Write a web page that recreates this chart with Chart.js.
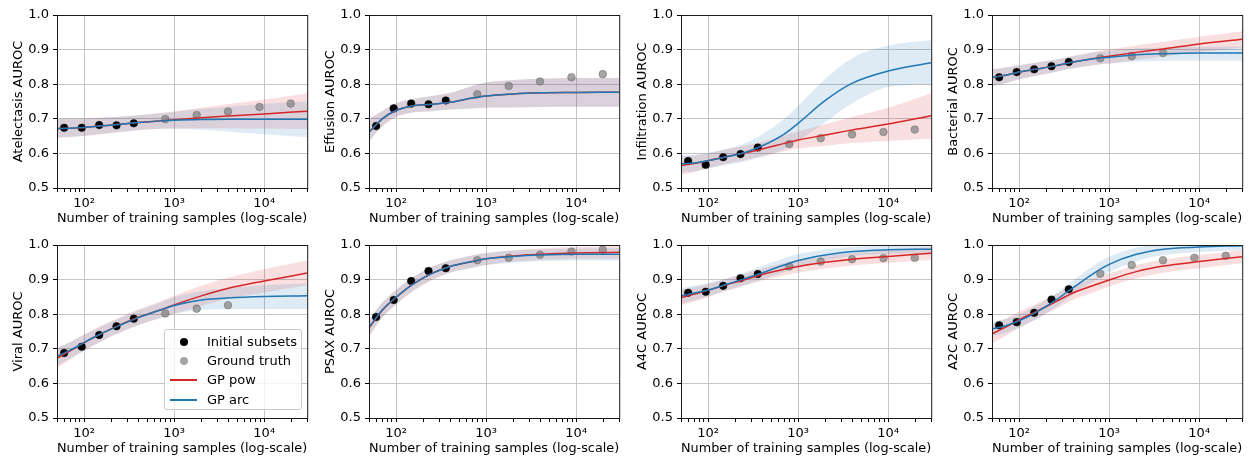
<!DOCTYPE html>
<html>
<head>
<meta charset="utf-8">
<script src="https://cdn.jsdelivr.net/npm/chart.js@4.4.1/dist/chart.umd.min.js"></script>
<style>
  body { margin: 0; background: #fff; }
  #wrap { position: relative; width: 1249px; height: 457px; overflow: hidden; }
  .panel { position: absolute; }
  #legend {
    position: absolute; left: 164px; top: 329px; width: 136px; height: 79px;
    border: 1px solid #ccc; border-radius: 3px; background: rgba(255,255,255,0.8);
    font: 13px "DejaVu Sans", sans-serif; color: #000;
  }
  #legend .row { position: absolute; left: 0; height: 16px; width: 136px; }
  #legend .txt { position: absolute; left: 42px; top: 0; line-height: 16px; white-space: nowrap; }
  #legend .dot { position: absolute; left: 15px; top: 4px; width: 8px; height: 8px; border-radius: 50%; }
  #legend .ln { position: absolute; left: 5px; top: 7px; width: 27px; height: 2px; }
</style>
</head>
<body>
<div id="wrap"></div>
<script>
// sample sizes of the subsets (first five = initial, rest = ground truth)
const sampleSizes = [60, 94, 147, 229, 356, 797, 1780, 3960, 8850, 19700];
// sample sizes at which the GP curves / bands are read
const curveSizes = [50, 70, 100, 150, 250, 400, 700, 1000, 2000, 4000, 10000, 30000];

const yTickValues = [0.5, 0.6, 0.7, 0.8, 0.9, 1.0];
const xMajor = [100, 1000, 10000];
const xMinor = [50, 60, 70, 80, 90, 200, 300, 400, 500, 600, 700, 800, 900,
  2000, 3000, 4000, 5000, 6000, 7000, 8000, 9000, 20000, 30000];
const xLabels = { 100: '10²', 1000: '10³', 10000: '10⁴' };

const titles = ['Atelectasis AUROC', 'Effusion AUROC', 'Infiltration AUROC', 'Bacterial AUROC',
  'Viral AUROC', 'PSAX AUROC', 'A4C AUROC', 'A2C AUROC'];
const legendItems = ['Initial subsets', 'Ground truth', 'GP pow', 'GP arc'];

// Atelectasis
const atelInit = [0.674, 0.674, 0.682, 0.681, 0.687];
const atelTruth = [0.699, 0.711, 0.721, 0.734, 0.744];
const atelPow = [0.671, 0.673, 0.675, 0.679, 0.684, 0.689, 0.694, 0.697, 0.703, 0.708, 0.714, 0.722];
const atelPowLo = [0.645, 0.647, 0.650, 0.655, 0.661, 0.667, 0.671, 0.672, 0.673, 0.673, 0.672, 0.671];
const atelPowHi = [0.700, 0.700, 0.701, 0.703, 0.706, 0.710, 0.717, 0.722, 0.732, 0.743, 0.756, 0.773];
const atelArc = [0.672, 0.673, 0.675, 0.679, 0.684, 0.689, 0.694, 0.696, 0.698, 0.699, 0.699, 0.699];
const atelArcLo = [0.646, 0.648, 0.651, 0.656, 0.662, 0.667, 0.671, 0.671, 0.668, 0.663, 0.655, 0.647];
const atelArcHi = [0.700, 0.700, 0.701, 0.703, 0.706, 0.710, 0.716, 0.720, 0.728, 0.735, 0.743, 0.750];

// Effusion
const effuInit = [0.679, 0.730, 0.744, 0.742, 0.753];
const effuTruth = [0.771, 0.795, 0.808, 0.820, 0.829];
const effuPow = [0.661, 0.700, 0.724, 0.737, 0.742, 0.748, 0.760, 0.766, 0.772, 0.775, 0.776, 0.777];
const effuPowLo = [0.635, 0.678, 0.705, 0.718, 0.722, 0.727, 0.730, 0.732, 0.733, 0.734, 0.735, 0.735];
const effuPowHi = [0.700, 0.722, 0.745, 0.757, 0.766, 0.775, 0.795, 0.805, 0.812, 0.816, 0.818, 0.818];
const effuArc = [0.661, 0.700, 0.724, 0.737, 0.742, 0.748, 0.760, 0.766, 0.772, 0.775, 0.776, 0.777];
const effuArcLo = [0.635, 0.678, 0.705, 0.718, 0.722, 0.727, 0.730, 0.732, 0.733, 0.734, 0.735, 0.735];
const effuArcHi = [0.700, 0.722, 0.745, 0.757, 0.766, 0.775, 0.795, 0.805, 0.812, 0.816, 0.818, 0.818];

// Infiltration
const infiInit = [0.578, 0.567, 0.589, 0.598, 0.617];
const infiTruth = [0.627, 0.644, 0.655, 0.662, 0.669];
const infiPow = [0.565, 0.571, 0.579, 0.589, 0.601, 0.613, 0.629, 0.639, 0.653, 0.668, 0.685, 0.709];
const infiPowLo = [0.538, 0.546, 0.557, 0.568, 0.580, 0.592, 0.606, 0.614, 0.622, 0.630, 0.636, 0.642];
const infiPowHi = [0.590, 0.594, 0.600, 0.610, 0.622, 0.634, 0.652, 0.664, 0.684, 0.706, 0.732, 0.774];
const infiArc = [0.570, 0.572, 0.579, 0.589, 0.602, 0.622, 0.656, 0.687, 0.753, 0.803, 0.838, 0.862];
const infiArcLo = [0.545, 0.548, 0.556, 0.566, 0.576, 0.590, 0.612, 0.636, 0.690, 0.745, 0.792, 0.800];
const infiArcHi = [0.595, 0.596, 0.602, 0.612, 0.628, 0.655, 0.700, 0.738, 0.815, 0.876, 0.912, 0.927];

// Bacterial
const bactInit = [0.820, 0.835, 0.843, 0.852, 0.864];
const bactTruth = [0.875, 0.881, 0.890];
const bactPow = [0.819, 0.826, 0.835, 0.843, 0.853, 0.864, 0.875, 0.881, 0.892, 0.902, 0.916, 0.930];
const bactPowLo = [0.795, 0.803, 0.814, 0.824, 0.835, 0.846, 0.855, 0.860, 0.870, 0.880, 0.893, 0.906];
const bactPowHi = [0.843, 0.848, 0.855, 0.862, 0.871, 0.882, 0.894, 0.900, 0.912, 0.923, 0.937, 0.953];
const bactArc = [0.819, 0.826, 0.835, 0.843, 0.853, 0.864, 0.874, 0.878, 0.885, 0.888, 0.890, 0.890];
const bactArcLo = [0.795, 0.803, 0.814, 0.824, 0.835, 0.846, 0.856, 0.860, 0.865, 0.867, 0.868, 0.868];
const bactArcHi = [0.843, 0.848, 0.855, 0.862, 0.871, 0.881, 0.892, 0.897, 0.903, 0.906, 0.908, 0.909];

// Viral
const viraInit = [0.688, 0.706, 0.740, 0.765, 0.787];
const viraTruth = [0.802, 0.816, 0.826];
const viraPow = [0.673, 0.694, 0.718, 0.742, 0.769, 0.791, 0.812, 0.827, 0.853, 0.875, 0.896, 0.919];
const viraPowLo = [0.645, 0.669, 0.695, 0.720, 0.747, 0.768, 0.788, 0.801, 0.824, 0.845, 0.863, 0.884];
const viraPowHi = [0.700, 0.719, 0.741, 0.765, 0.791, 0.814, 0.837, 0.853, 0.882, 0.906, 0.930, 0.955];
const viraArc = [0.678, 0.696, 0.718, 0.742, 0.768, 0.790, 0.812, 0.825, 0.841, 0.847, 0.851, 0.853];
const viraArcLo = [0.652, 0.672, 0.695, 0.720, 0.747, 0.769, 0.790, 0.801, 0.812, 0.815, 0.815, 0.815];
const viraArcHi = [0.703, 0.720, 0.740, 0.763, 0.789, 0.811, 0.834, 0.849, 0.866, 0.876, 0.884, 0.889];

// PSAX
const psaxInit = [0.792, 0.841, 0.896, 0.925, 0.933];
const psaxTruth = [0.956, 0.963, 0.972, 0.981, 0.986];
const psaxPow = [0.760, 0.811, 0.849, 0.885, 0.918, 0.938, 0.952, 0.960, 0.968, 0.973, 0.977, 0.979];
const psaxPowLo = [0.735, 0.790, 0.828, 0.865, 0.899, 0.920, 0.934, 0.942, 0.952, 0.957, 0.960, 0.961];
const psaxPowHi = [0.785, 0.833, 0.870, 0.905, 0.937, 0.956, 0.970, 0.977, 0.985, 0.990, 0.994, 0.997];
const psaxArc = [0.762, 0.812, 0.849, 0.885, 0.918, 0.938, 0.952, 0.960, 0.967, 0.971, 0.973, 0.973];
const psaxArcLo = [0.738, 0.790, 0.828, 0.865, 0.899, 0.920, 0.934, 0.942, 0.949, 0.953, 0.955, 0.955];
const psaxArcHi = [0.785, 0.833, 0.870, 0.905, 0.937, 0.956, 0.970, 0.977, 0.984, 0.988, 0.990, 0.991];

// A4C
const a4cInit = [0.862, 0.865, 0.882, 0.904, 0.916];
const a4cTruth = [0.938, 0.952, 0.959, 0.962, 0.963];
const a4cPow = [0.848, 0.858, 0.869, 0.883, 0.899, 0.915, 0.930, 0.938, 0.950, 0.959, 0.967, 0.976];
const a4cPowLo = [0.825, 0.837, 0.850, 0.865, 0.882, 0.898, 0.912, 0.920, 0.932, 0.941, 0.949, 0.957];
const a4cPowHi = [0.870, 0.878, 0.888, 0.900, 0.916, 0.932, 0.948, 0.956, 0.968, 0.977, 0.985, 0.994];
const a4cArc = [0.853, 0.861, 0.870, 0.884, 0.902, 0.920, 0.942, 0.955, 0.971, 0.981, 0.986, 0.988];
const a4cArcLo = [0.830, 0.840, 0.851, 0.867, 0.884, 0.900, 0.922, 0.936, 0.955, 0.968, 0.974, 0.977];
const a4cArcHi = [0.876, 0.882, 0.889, 0.901, 0.920, 0.940, 0.962, 0.974, 0.987, 0.994, 0.997, 0.998];

// A2C
const a2cInit = [0.768, 0.777, 0.804, 0.842, 0.872];
const a2cTruth = [0.917, 0.942, 0.956, 0.963, 0.969];
const a2cPow = [0.743, 0.762, 0.784, 0.806, 0.835, 0.862, 0.885, 0.899, 0.923, 0.939, 0.952, 0.966];
const a2cPowLo = [0.716, 0.737, 0.761, 0.784, 0.814, 0.842, 0.865, 0.880, 0.904, 0.920, 0.933, 0.947];
const a2cPowHi = [0.770, 0.787, 0.807, 0.828, 0.856, 0.882, 0.905, 0.918, 0.942, 0.958, 0.971, 0.985];
const a2cArc = [0.757, 0.766, 0.781, 0.803, 0.839, 0.877, 0.921, 0.944, 0.973, 0.988, 0.994, 0.998];
const a2cArcLo = [0.737, 0.746, 0.761, 0.783, 0.819, 0.856, 0.898, 0.921, 0.953, 0.971, 0.980, 0.985];
const a2cArcHi = [0.778, 0.786, 0.800, 0.822, 0.858, 0.898, 0.944, 0.966, 0.992, 1.004, 1.008, 1.010];

const panels = [
  [atelInit, atelTruth, atelPow, atelPowLo, atelPowHi, atelArc, atelArcLo, atelArcHi],
  [effuInit, effuTruth, effuPow, effuPowLo, effuPowHi, effuArc, effuArcLo, effuArcHi],
  [infiInit, infiTruth, infiPow, infiPowLo, infiPowHi, infiArc, infiArcLo, infiArcHi],
  [bactInit, bactTruth, bactPow, bactPowLo, bactPowHi, bactArc, bactArcLo, bactArcHi],
  [viraInit, viraTruth, viraPow, viraPowLo, viraPowHi, viraArc, viraArcLo, viraArcHi],
  [psaxInit, psaxTruth, psaxPow, psaxPowLo, psaxPowHi, psaxArc, psaxArcLo, psaxArcHi],
  [a4cInit, a4cTruth, a4cPow, a4cPowLo, a4cPowHi, a4cArc, a4cArcLo, a4cArcHi],
  [a2cInit, a2cTruth, a2cPow, a2cPowLo, a2cPowHi, a2cArc, a2cArcLo, a2cArcHi],
];

const RED = '#d62728', BLUE = '#1f77b4';
const RED_BAND = 'rgba(214,39,40,0.15)', BLUE_BAND = 'rgba(31,119,180,0.15)';
const GRID = '#c4c4c4';
const FONT = { family: 'DejaVu Sans', size: 13 };
const cellLeft = [0, 312, 624, 935], cellTop = [0, 230];

Chart.defaults.font.family = 'DejaVu Sans';
Chart.defaults.font.size = 13;
Chart.defaults.color = '#000';

// top/right spines like matplotlib
const frame = {
  id: 'frame',
  afterDraw(chart) {
    const { ctx, chartArea: a } = chart;
    ctx.save();
    ctx.strokeStyle = '#1a1a1a';
    ctx.lineWidth = 1;
    ctx.strokeRect(a.left + 0.5, a.top + 0.5, a.right - a.left, a.bottom - a.top);
    ctx.restore();
  }
};

const pts = (xs, ys) => ys.map((y, i) => ({ x: xs[i], y }));

function band(ys, color, fill) {
  return {
    data: pts(curveSizes, ys), borderWidth: 0, pointRadius: 0,
    backgroundColor: color, borderColor: 'rgba(0,0,0,0)', fill,
    cubicInterpolationMode: 'monotone'
  };
}
function curve(ys, color) {
  return {
    data: pts(curveSizes, ys), borderColor: color, borderWidth: 1.5,
    pointRadius: 0, fill: false, cubicInterpolationMode: 'monotone'
  };
}

const wrap = document.getElementById('wrap');

panels.forEach((p, i) => {
  const [init, truth, pow, powLo, powHi, arc, arcLo, arcHi] = p;
  const div = document.createElement('div');
  div.className = 'panel';
  div.style.left = cellLeft[i % 4] + 'px';
  div.style.top = cellTop[Math.floor(i / 4)] + 'px';
  const canvas = document.createElement('canvas');
  canvas.width = 312;
  canvas.height = 226;
  div.appendChild(canvas);
  wrap.appendChild(div);

  new Chart(canvas, {
    type: 'line',
    data: {
      datasets: [
        curve(arc, BLUE),
        curve(pow, RED),
        { type: 'scatter', data: pts(sampleSizes, init), backgroundColor: '#000',
          borderColor: '#000', borderWidth: 0.5, pointRadius: 3.8 },
        { type: 'scatter', data: pts(sampleSizes.slice(5), truth),
          backgroundColor: 'rgba(128,128,128,0.7)', borderColor: 'rgba(110,110,110,0.7)',
          borderWidth: 0.8, pointRadius: 3.8 },
        band(arcHi, BLUE_BAND, '+1'),
        band(arcLo, 'rgba(0,0,0,0)', false),
        band(powHi, RED_BAND, '+1'),
        band(powLo, 'rgba(0,0,0,0)', false),
      ]
    },
    options: {
      responsive: false,
      animation: false,
      devicePixelRatio: 1,
      layout: { padding: { top: 15, right: 3, left: 0, bottom: 0 } },
      plugins: { legend: { display: false }, tooltip: { enabled: false } },
      scales: {
        x: {
          type: 'logarithmic', min: 50, max: 30000,
          afterBuildTicks: s => {
            s.ticks = xMinor.concat(xMajor).sort((a, b) => a - b).map(v => ({ value: v }));
          },
          afterFit: s => { s.height = 38; },
          ticks: {
            autoSkip: false, maxRotation: 0, minRotation: 0, padding: 4,
            color: '#000', font: FONT,
            callback: v => xLabels[v] || ''
          },
          grid: {
            color: c => (c.tick && xMajor.includes(c.tick.value)) ? GRID : 'rgba(0,0,0,0)',
            tickColor: '#000', tickLength: 4, tickWidth: 1, lineWidth: 1
          },
          border: { display: false },
          title: {
            display: true, text: 'Number of training samples (log-scale)',
            color: '#000', font: FONT, padding: { top: 0, bottom: 0 }
          }
        },
        y: {
          min: 0.5, max: 1.0,
          afterBuildTicks: s => { s.ticks = yTickValues.map(v => ({ value: v })); },
          afterFit: s => { s.width = 57; },
          ticks: { padding: 4, color: '#000', font: FONT, callback: v => Number(v).toFixed(1) },
          grid: { color: GRID, tickColor: '#000', tickLength: 4, tickWidth: 1, lineWidth: 1 },
          border: { display: false },
          title: {
            display: true, text: titles[i], color: '#000', font: FONT,
            padding: { top: 10.5, bottom: 0 }
          }
        }
      }
    },
    plugins: [frame]
  });
});

// legend inside the Viral panel
const legend = document.createElement('div');
legend.id = 'legend';
const rowTops = [4, 23, 42, 62];
legendItems.forEach((label, k) => {
  const row = document.createElement('div');
  row.className = 'row';
  row.style.top = rowTops[k] + 'px';
  const mark = document.createElement('span');
  if (k < 2) {
    mark.className = 'dot';
    mark.style.background = k === 0 ? '#000' : 'rgba(128,128,128,0.7)';
  } else {
    mark.className = 'ln';
    mark.style.background = k === 2 ? RED : BLUE;
  }
  const txt = document.createElement('span');
  txt.className = 'txt';
  txt.textContent = label;
  row.appendChild(mark);
  row.appendChild(txt);
  legend.appendChild(row);
});
wrap.appendChild(legend);
</script>
</body>
</html>
